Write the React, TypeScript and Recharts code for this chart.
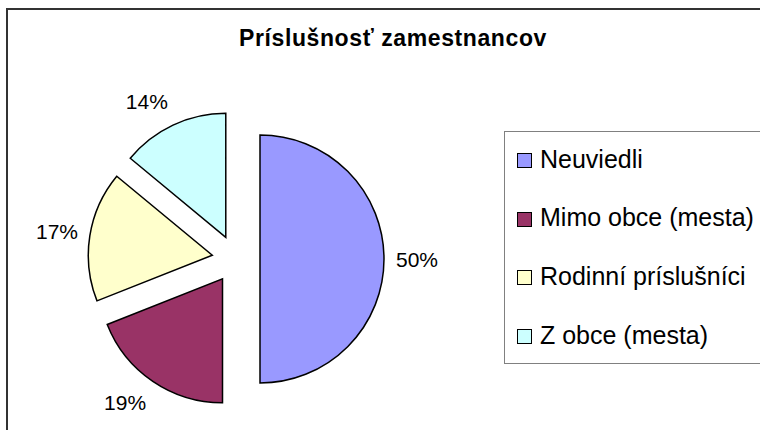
import React from 'react';
import { PieChart, Pie, Cell, Sector, Legend } from 'recharts';

const categories = ['Neuviedli', 'Mimo obce (mesta)', 'Rodinní príslušníci', 'Z obce (mesta)'];
const shares = [50, 19, 17, 14];
const colors = ['#9999FF', '#993366', '#FFFFCC', '#CCFFFF'];

const data = categories.map((name, i) => ({ name, value: shares[i] }));

const RADIAN = Math.PI / 180;
const EXPLODE = 24;
const FONT = '"Liberation Sans", Arial, sans-serif';

const ExplodedSector = (props: any) => {
  const { cx, cy, midAngle } = props;
  const dx = Math.cos(-midAngle * RADIAN) * EXPLODE;
  const dy = Math.sin(-midAngle * RADIAN) * EXPLODE;
  return <Sector {...props} cx={cx + dx} cy={cy + dy} />;
};

const renderLabel = (props: any) => {
  const { cx, cy, midAngle, outerRadius, percent } = props;
  const dirX = Math.cos(-midAngle * RADIAN);
  const dirY = Math.sin(-midAngle * RADIAN);
  const ex = cx + dirX * EXPLODE;
  const ey = cy + dirY * EXPLODE;
  const px = ex + dirX * (outerRadius + 12);
  const py = ey + dirY * (outerRadius + 12);
  const sx = Math.abs(dirX) > 0.3 ? Math.sign(dirX) : 0;
  const x = px + sx * 21;
  const y = py + dirY * 14;
  return (
    <text x={x} y={y} textAnchor="middle" dominantBaseline="central" fill="#000" fontSize={21} fontFamily={FONT}>
      {`${Math.round(percent * 100)}%`}
    </text>
  );
};

const renderLegend = (props: any) => {
  // keep the legend in data order
  const items = [...(props.payload || [])].sort(
    (a: any, b: any) => categories.indexOf(a.value) - categories.indexOf(b.value)
  );
  return (
    <div style={{ position: 'relative', width: '100%', height: '100%' }}>
      {items.map((entry: any, i: number) => (
        <div
          key={entry.value}
          style={{
            position: 'absolute',
            left: 12,
            top: 27 + i * 58.7 - 15,
            height: 30,
            display: 'flex',
            alignItems: 'center',
            whiteSpace: 'nowrap',
            fontFamily: FONT,
            fontSize: 25,
            color: '#000',
          }}
        >
          <span
            style={{
              display: 'inline-block',
              width: 13,
              height: 13,
              marginTop: 3,
              background: entry.color,
              border: '1px solid #000',
              marginRight: 8,
            }}
          />
          {entry.value}
        </div>
      ))}
    </div>
  );
};

export default function App() {
  return (
    <div style={{ position: 'fixed', left: 0, top: 0, width: 760, height: 430, overflow: 'hidden', background: '#fff' }}>
      <div
        style={{
          position: 'absolute',
          left: 6,
          top: 8,
          width: 800,
          height: 500,
          border: '2px solid #333',
        }}
      />
      <div
        style={{
          position: 'absolute',
          left: 0,
          top: 25,
          width: 786,
          textAlign: 'center',
          fontFamily: FONT,
          fontWeight: 'bold',
          fontSize: 23,
          letterSpacing: 0.6,
          color: '#000',
        }}
      >
        Príslušnosť zamestnancov
      </div>
      <div style={{ position: 'absolute', left: 0, top: 0 }}>
        <PieChart width={760} height={430} margin={{ top: 0, right: 0, bottom: 0, left: 0 }}>
          <Pie
            data={data}
            dataKey="value"
            nameKey="name"
            cx={236}
            cy={259}
            outerRadius={124}
            startAngle={90}
            endAngle={-270}
            stroke="#000"
            strokeWidth={1.5}
            shape={ExplodedSector}
            label={renderLabel}
            labelLine={false}
            isAnimationActive={false}
          >
            {data.map((d, i) => (
              <Cell key={d.name} fill={colors[i]} />
            ))}
          </Pie>
          <Legend
            content={renderLegend}
            wrapperStyle={{
              position: 'absolute',
              left: 504,
              top: 131,
              width: 300,
              height: 233,
              border: '1px solid #808080',
              boxSizing: 'border-box',
            }}
          />
        </PieChart>
      </div>
    </div>
  );
}
